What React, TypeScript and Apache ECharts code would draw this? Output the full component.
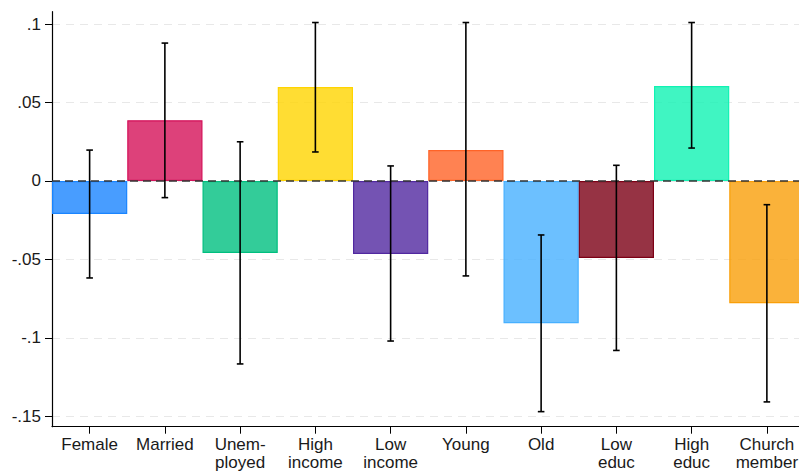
import React, { useEffect, useRef } from "react";
import * as echarts from "echarts";

const categories = ["Female", "Married", "Unem-\nployed", "High\nincome", "Low\nincome", "Young", "Old", "Low\neduc", "High\neduc", "Church\nmember"];
const estimates = [-0.021, 0.0387, -0.0459, 0.0599, -0.0465, 0.0197, -0.0907, -0.049, 0.0605, -0.0779];
const ciLow = [-0.0618, -0.0106, -0.1166, 0.0185, -0.102, -0.0605, -0.147, -0.108, 0.021, -0.1408];
const ciHigh = [0.0197, 0.0879, 0.025, 0.101, 0.0096, 0.101, -0.0344, 0.010, 0.101, -0.0151];
const baseColors = [
  [26, 133, 255], [212, 17, 89], [0, 191, 127], [255, 212, 0], [81, 40, 160],
  [255, 99, 39], [71, 176, 255], [124, 0, 21], [16, 242, 179], [249, 159, 9],
];
const tickValues = [0.1, 0.05, 0, -0.05, -0.1, -0.15];
const tickLabels = [".1", ".05", "0", "-.05", "-.1", "-.15"];

const FONT = "'Liberation Sans', Arial, sans-serif";

export default function App() {
  const ref = useRef<HTMLDivElement>(null);
  useEffect(() => {
    if (!ref.current) return;
    const chart = echarts.init(ref.current, undefined, { renderer: "svg" });
    const barData = estimates.map((v, i) => {
      const [r, g, b] = baseColors[i];
      return {
        value: v,
        itemStyle: {
          color: `rgba(${r},${g},${b},0.8)`,
          borderColor: `rgb(${r},${g},${b})`,
          borderWidth: 1.2,
        },
      };
    });
    const errData = categories.map((_, i) => [i, ciLow[i], ciHigh[i]]);
    chart.setOption({
      animation: false,
      grid: { left: 52, top: 11.7, right: 0.5, bottom: 46.3, containLabel: false },
      xAxis: {
        type: "category",
        data: categories,
        boundaryGap: true,
        axisLine: { show: true, onZero: false, lineStyle: { color: "#000", width: 1.2 } },
        axisTick: { show: true, alignWithLabel: true, length: 7, lineStyle: { color: "#000", width: 1 } },
        axisLabel: { color: "#1a1a1a", fontSize: 17, fontFamily: FONT, margin: 9, lineHeight: 18, interval: 0 },
        splitLine: { show: false },
      },
      yAxis: {
        type: "value",
        min: -0.1566,
        max: 0.1079,
        axisLine: { show: true, onZero: false, lineStyle: { color: "#000", width: 1.2 } },
        axisTick: { show: true, length: 7, customValues: tickValues, lineStyle: { color: "#000", width: 1 } },
        axisLabel: {
          show: true,
          customValues: tickValues,
          color: "#1a1a1a",
          fontSize: 17,
          fontFamily: FONT,
          margin: 11,
          formatter: (v: number) => {
            const idx = tickValues.findIndex((t) => Math.abs(t - v) < 1e-9);
            return idx >= 0 ? tickLabels[idx] : "";
          },
        },
        splitLine: { show: true, lineStyle: { color: "#e8e8e8", type: [8, 6], width: 1 } },
      },
      series: [
        {
          type: "bar",
          data: barData,
          barWidth: "100%",
          barGap: "0%",
          z: 2,
          markLine: {
            silent: true,
            symbol: "none",
            label: { show: false },
            lineStyle: { color: "#333", type: [8, 5], width: 1.5 },
            data: [{ yAxis: 0 }],
          },
        },
        {
          type: "custom",
          z: 5,
          data: errData,
          renderItem: (params: any, api: any) => {
            const x = api.coord([api.value(0), api.value(1)])[0];
            const yLow = api.coord([api.value(0), api.value(1)])[1];
            const yHigh = api.coord([api.value(0), api.value(2)])[1];
            const cap = 3.3;
            const style = { stroke: "#000", lineWidth: 1.6 };
            return {
              type: "group",
              children: [
                { type: "line", shape: { x1: x, y1: yLow, x2: x, y2: yHigh }, style },
                { type: "line", shape: { x1: x - cap, y1: yLow, x2: x + cap, y2: yLow }, style },
                { type: "line", shape: { x1: x - cap, y1: yHigh, x2: x + cap, y2: yHigh }, style },
              ],
            };
          },
        },
      ],
    });
    return () => chart.dispose();
  }, []);
  return <div ref={ref} style={{ position: "fixed", left: 0, top: 0, width: 805, height: 473, background: "#fff" }} />;
}
